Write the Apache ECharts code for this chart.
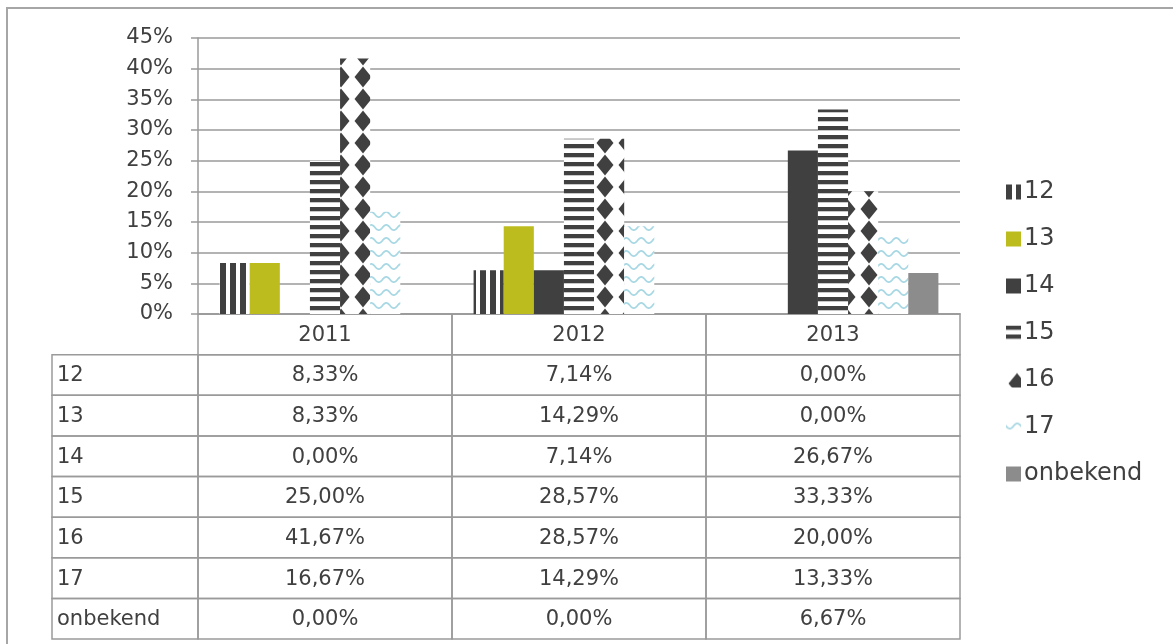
<!DOCTYPE html>
<html>
<head>
<meta charset="utf-8">
<script src="https://cdn.jsdelivr.net/npm/echarts@6/dist/echarts.min.js"></script>
<style>
  html, body { margin: 0; padding: 0; background: #ffffff; }
  #chart { width: 1173px; height: 644px; }
</style>
</head>
<body>
<div id="chart"></div>
<script>
// Age groups per year (share of total, %)
const years = ['2011', '2012', '2013'];
const seriesNames = ['12', '13', '14', '15', '16', '17', 'onbekend'];
const v12 = [8.33, 7.14, 0.00];
const v13 = [8.33, 14.29, 0.00];
const v14 = [0.00, 7.14, 26.67];
const v15 = [25.00, 28.57, 33.33];
const v16 = [41.67, 28.57, 20.00];
const v17 = [16.67, 14.29, 13.33];
const vOnbekend = [0.00, 0.00, 6.67];
const seriesValues = [v12, v13, v14, v15, v16, v17, vOnbekend];
const yTicks = { min: 0, max: 45, step: 5 };

const DARK = '#404040';
const FONT = 'DejaVu Sans';
const LINE = '#9a9a9a';

function tile(w, h, draw) {
  const c = document.createElement('canvas');
  c.width = w; c.height = h;
  const ctx = c.getContext('2d');
  ctx.fillStyle = '#ffffff';
  ctx.fillRect(0, 0, w, h);
  draw(ctx);
  return { image: c, repeat: 'repeat' };
}

// fills: vertical stripes, solid olive, solid dark, horizontal stripes, diamonds, waves, solid grey
const fills = [
  tile(10, 10, ctx => { ctx.fillStyle = DARK; ctx.fillRect(0, 0, 6, 10); }),
  '#bcbc1f',
  DARK,
  tile(4, 9, ctx => { ctx.fillStyle = DARK; ctx.fillRect(0, 0, 4, 4); ctx.fillStyle = '#c8c8c8'; ctx.fillRect(0, 4, 4, 1); }),
  tile(22, 22, ctx => {
    ctx.fillStyle = DARK;
    ctx.beginPath();
    ctx.moveTo(11, 0.5); ctx.lineTo(19.5, 11); ctx.lineTo(11, 21.5); ctx.lineTo(2.5, 11);
    ctx.closePath(); ctx.fill();
  }),
  tile(15, 13, ctx => {
    ctx.strokeStyle = '#a8d8e4';
    ctx.lineWidth = 1.8;
    ctx.beginPath();
    for (let x = -1; x <= 16; x += 0.5) {
      const y = 6.5 + 2.6 * Math.sin((x / 15) * Math.PI * 2);
      if (x === -1) ctx.moveTo(x, y); else ctx.lineTo(x, y);
    }
    ctx.stroke();
  }),
  '#8c8c8c'
];

const fmt = v => v.toFixed(2).replace('.', ',') + '%';

// table rows: header plus one row per series
const tableRows = [''].concat(seriesNames);
const tableCells = [];
years.forEach((y, c) => tableCells.push([c, 0, y]));
seriesNames.forEach((name, r) => {
  tableCells.push([-1, r + 1, name]);
  seriesValues[r].forEach((v, c) => tableCells.push([c, r + 1, fmt(v)]));
});

const LABEL_COL = 146;

const barSeries = seriesNames.map((name, i) => ({
  name: name,
  type: 'bar',
  xAxisIndex: 0,
  yAxisIndex: 0,
  data: seriesValues[i],
  barGap: '0%',
  barCategoryGap: '17%',
  itemStyle: { color: fills[i] },
  emphasis: { disabled: true },
  silent: true
}));

const tableSeries = {
  type: 'custom',
  xAxisIndex: 1,
  yAxisIndex: 1,
  silent: true,
  data: tableCells,
  renderItem: function (params, api) {
    const col = api.value(0);
    const row = api.value(1);
    const text = tableCells[params.dataIndex][2];
    const size = api.size([1, 1]);
    let cy, x0, w;
    if (col < 0) {
      const p = api.coord([0, row]);
      cy = p[1];
      x0 = p[0] - size[0] / 2 - LABEL_COL;
      w = LABEL_COL;
    } else {
      const p = api.coord([col, row]);
      cy = p[1];
      x0 = p[0] - size[0] / 2;
      w = size[0];
    }
    const y0 = cy - size[1] / 2;
    return {
      type: 'group',
      children: [
        { type: 'rect', shape: { x: x0, y: y0, width: w, height: size[1] },
          style: { fill: null, stroke: LINE, lineWidth: 1.5 } },
        { type: 'text',
          style: {
            text: text,
            x: col < 0 ? x0 + 5 : x0 + w / 2,
            y: cy + 1,
            align: col < 0 ? 'left' : 'center',
            verticalAlign: 'middle',
            fill: DARK,
            font: '21px "' + FONT + '"'
          } }
      ]
    };
  }
};

const chart = echarts.init(document.getElementById('chart'), null, { renderer: 'canvas' });
chart.setOption({
  animation: false,
  backgroundColor: '#ffffff',
  textStyle: { fontFamily: FONT, color: DARK },
  graphic: [{
    type: 'rect', z: 100, silent: true,
    shape: { x: 7, y: 8, width: 1300, height: 800 },
    style: { fill: null, stroke: '#a6a6a6', lineWidth: 2 }
  }],
  legend: {
    orient: 'vertical',
    left: 1001,
    top: 175,
    itemWidth: 15,
    itemHeight: 15,
    itemGap: 23,
    icon: 'rect',
    selectedMode: false,
    data: seriesNames,
    textStyle: { fontFamily: FONT, fontSize: 24, color: DARK, lineHeight: 24, padding: [0, 0, 0, -2] }
  },
  grid: [
    { left: 198, right: 213, top: 38, bottom: 330 },
    { left: 198, right: 213, top: 314, bottom: 5 }
  ],
  xAxis: [
    { type: 'category', gridIndex: 0, data: years,
      axisLine: { show: true, lineStyle: { color: LINE, width: 1.5 } },
      axisTick: { show: false }, axisLabel: { show: false } },
    { type: 'category', gridIndex: 1, data: years, show: false }
  ],
  yAxis: [
    { type: 'value', gridIndex: 0, min: yTicks.min, max: yTicks.max, interval: yTicks.step,
      axisLine: { show: true, lineStyle: { color: LINE, width: 1.5 } },
      axisTick: { show: true, length: 7, lineStyle: { color: LINE, width: 1.5 } },
      splitLine: { show: true, lineStyle: { color: LINE, width: 1.5 } },
      axisLabel: { formatter: '{value}%', margin: 25, fontFamily: FONT, fontSize: 21, color: DARK } },
    { type: 'category', gridIndex: 1, data: tableRows, inverse: true, show: false }
  ],
  series: barSeries.concat([tableSeries])
});
</script>
</body>
</html>
